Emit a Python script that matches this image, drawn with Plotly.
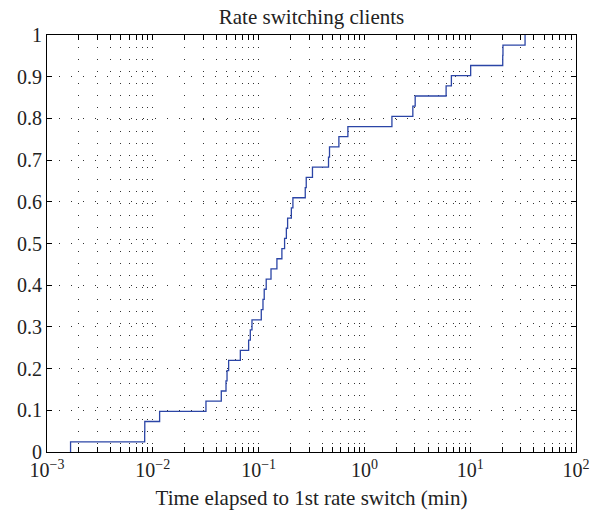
import numpy as np
import plotly.graph_objects as go

# Time elapsed to first rate switch (min), one value per client (read from the ECDF steps)
switch_times = [
    0.00167, 0.00838, 0.00840, 0.0116, 0.0318, 0.0444, 0.0492, 0.0503, 0.0521,
    0.0672, 0.0805, 0.0835, 0.0866, 0.106, 0.110, 0.113, 0.118, 0.131,
    0.149, 0.166, 0.176, 0.183, 0.188, 0.204, 0.211, 0.276, 0.282, 0.323,
    0.458, 0.468, 0.574, 0.698, 1.82, 2.87, 3.02, 5.92, 6.64, 10.1,
    20.3, 20.4, 33.0,
]
title_text = "Rate switching clients"
x_label = "Time elapsed to 1st rate switch (min)"
decades = [-3, -2, -1, 0, 1, 2]

xs = np.sort(np.array(switch_times))
n = len(xs)
ecdf = np.arange(1, n + 1) / n
x_line = np.concatenate([[xs[0]], xs])
y_line = np.concatenate([[0.0], ecdf])

# tick positions on log axis: decades plus 2..9 minors
tickvals, ticktext = [], []
for d in decades:
    tickvals.append(10.0 ** d)
    ticktext.append("10<sup>%s</sup>" % (str(d).replace("-", "\u2212")))
    if d < decades[-1]:
        for m in range(2, 10):
            tickvals.append(m * 10.0 ** d)
            ticktext.append("")

font_family = "Liberation Serif, DejaVu Serif, serif"
text_color = "#222"

fig = go.Figure()
fig.add_trace(go.Scatter(
    x=x_line, y=y_line, mode="lines", line_shape="hv",
    line=dict(color="#2b45a6", width=1.3), showlegend=False,
))

grid_dash = "1px,11px"
fig.update_layout(
    width=602, height=512,
    margin=dict(l=47, r=26, t=35, b=60),
    paper_bgcolor="white", plot_bgcolor="white",
    font=dict(family=font_family, size=20, color=text_color),
    title=dict(text=title_text, x=0.5, xref="paper", y=1 - 17 / 512,
               yref="container", xanchor="center", yanchor="middle",
               font=dict(size=21, family=font_family, color=text_color)),
)
fig.update_xaxes(
    type="log", range=[-3, 2], automargin=False,
    tickmode="array", tickvals=tickvals, ticktext=ticktext,
    ticks="inside", ticklen=5, tickcolor="black", tickwidth=1,
    showline=True, linecolor="black", linewidth=1, mirror="allticks",
    showgrid=True, gridcolor="rgba(0,0,0,0.8)", gridwidth=1, griddash=grid_dash,
    zeroline=False,
    title=dict(text=x_label, standoff=10, font=dict(size=21, family=font_family, color=text_color)),
    tickfont=dict(size=20, family=font_family, color=text_color),
)
fig.update_yaxes(
    range=[0, 1], dtick=0.1, tick0=0, automargin=False,
    ticks="inside", ticklen=5, tickcolor="black", tickwidth=1,
    showline=True, linecolor="black", linewidth=1, mirror="allticks",
    showgrid=True, gridcolor="rgba(0,0,0,0.8)", gridwidth=1, griddash=grid_dash,
    zeroline=False,
    tickfont=dict(size=20, family=font_family, color=text_color),
)

fig.write_html("out.html")
